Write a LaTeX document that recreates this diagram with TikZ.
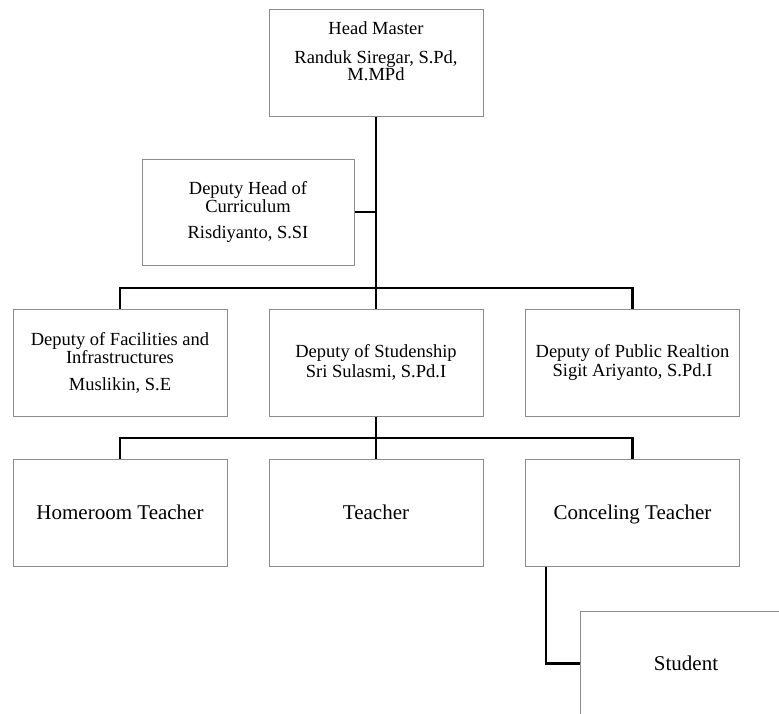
\documentclass[tikz,border=0pt]{standalone}
\usepackage{fontspec}
\setmainfont{Liberation Serif}
\definecolor{boxgray}{RGB}{140,140,140}
\newcommand\fsm{\fontsize{18.5}{18.5}\selectfont}
\newcommand\flg{\fontsize{21}{24}\selectfont}
\tikzset{
  box/.style={draw=boxgray, line width=1pt, fill=white, minimum width=214pt,
    minimum height=107pt, inner sep=0pt, align=center, font=\fsm},
  bigbox/.style={box, font=\flg, text height=16pt, text depth=1.5pt},
  conn/.style={line width=2.8pt, black},
  txt/.style={inner sep=0pt, align=center, font=\fsm}
}
\begin{document}
\begin{tikzpicture}[x=1pt,y=-1pt]
\useasboundingbox (0,0) rectangle (779,713);
\clip (0,0) rectangle (779,713);
% boxes
\node[box] (hm) at (376,62.5) {};
\node[txt, anchor=north] (hmtext) at ([yshift=-13pt]hm.north)
  {Head Master\\[10pt]Randuk Siregar, S.Pd,\\[-1pt]M.MPd};
\node[box, minimum width=212pt, minimum height=106pt] (dhc) at (248,212)
  {Deputy Head of\\[-1pt]Curriculum\\[8pt]Risdiyanto, S.SI};
\node[box] (fac) at (120,362.5) {Deputy of Facilities and\\Infrastructures\\[8pt]Muslikin, S.E};
\node[box] (stu) at (376,362.5) {Deputy of Studenship\\[1pt]Sri Sulasmi, S.Pd.I};
\node[box] (pr) at (632.5,362.5) {Deputy of Public Realtion\\[1pt]Sigit Ariyanto, S.Pd.I};
\node[bigbox] (hrt) at (120,512.5) {Homeroom Teacher};
\node[bigbox] (tch) at (376,512.5) {Teacher};
\node[bigbox] (ct) at (632.5,512.5) {Conceling Teacher};
\node[bigbox, minimum width=212pt, minimum height=105pt] (st) at (686,663.5) {Student};
% junctions
\coordinate (j1) at (hm.south |- 0,288);
\coordinate (j2) at (hm.south |- 0,438);
\coordinate (ctout) at ([xshift=21pt]ct.south west);
% connectors
\draw[conn] (hm.south) -- (stu.north);
\draw[conn] (dhc.east) -- (dhc.east -| hm.south);
\draw[conn] (fac.north) |- (j1) -| (pr.north);
\draw[conn] (stu.south) -- (tch.north);
\draw[conn] (hrt.north) |- (j2) -| (ct.north);
\draw[conn] (ctout) |- (st.west);
\end{tikzpicture}
\end{document}
